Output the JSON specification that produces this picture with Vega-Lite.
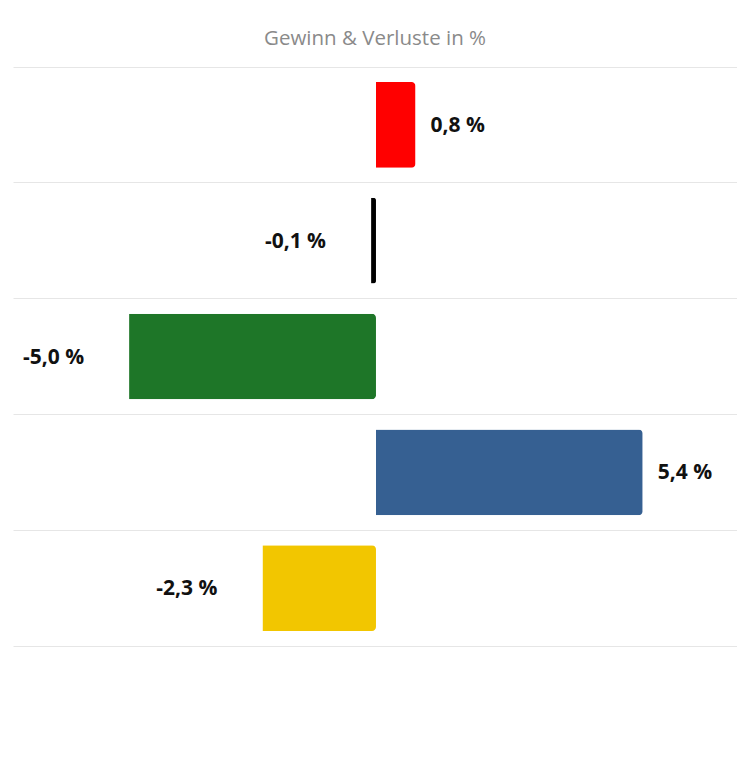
{
  "$schema": "https://vega.github.io/schema/vega-lite/v6.json",
  "width": 724,
  "height": 579,
  "autosize": "none",
  "padding": {"left": 13, "top": 67, "right": 0, "bottom": 113},
  "background": "#ffffff",
  "title": {
    "text": "Gewinn & Verluste in %",
    "font": "Open Sans",
    "fontSize": 20.5,
    "fontWeight": "normal",
    "color": "#8a8a8a",
    "anchor": "middle",
    "baseline": "middle",
    "offset": 8
  },
  "data": {
    "values": [
      {"row": "1", "value": 0.8, "label": "0,8 %", "color": "#ff0000"},
      {"row": "2", "value": -0.1, "label": "-0,1 %", "color": "#000000"},
      {"row": "3", "value": -5.0, "label": "-5,0 %", "color": "#1e7628"},
      {"row": "4", "value": 5.4, "label": "5,4 %", "color": "#366092"},
      {"row": "5", "value": -2.3, "label": "-2,3 %", "color": "#f2c600"}
    ]
  },
  "encoding": {
    "y": {
      "field": "row",
      "type": "nominal",
      "sort": null,
      "scale": {"paddingInner": 0.26, "paddingOuter": 0.13},
      "axis": {
        "title": null,
        "labels": false,
        "ticks": false,
        "domain": false,
        "grid": true,
        "bandPosition": 1.1757,
        "gridColor": "#e6e6e6",
        "gridWidth": 1
      }
    },
    "x": {
      "field": "value",
      "type": "quantitative",
      "scale": {"domain": [-7.35, 7.31], "nice": false, "zero": false},
      "axis": {
        "orient": "top",
        "title": null,
        "labels": false,
        "ticks": false,
        "grid": false,
        "domain": true,
        "domainColor": "#e6e6e6",
        "domainWidth": 1
      }
    }
  },
  "layer": [
    {
      "mark": {"type": "bar", "cornerRadiusEnd": 4},
      "encoding": {
        "color": {"field": "color", "type": "nominal", "scale": null, "legend": null}
      }
    },
    {
      "transform": [{"filter": "datum.value >= 0"}],
      "mark": {"type": "text", "align": "left", "baseline": "middle", "dx": 15, "dy": 1, "font": "Open Sans", "fontSize": 21, "fontWeight": "bold", "color": "#111111"},
      "encoding": {"text": {"field": "label", "type": "nominal"}}
    },
    {
      "transform": [{"filter": "datum.value < 0"}],
      "mark": {"type": "text", "align": "right", "baseline": "middle", "dx": -45, "dy": 1, "font": "Open Sans", "fontSize": 21, "fontWeight": "bold", "color": "#111111"},
      "encoding": {"text": {"field": "label", "type": "nominal"}}
    }
  ],
  "config": {"view": {"stroke": null}}
}
